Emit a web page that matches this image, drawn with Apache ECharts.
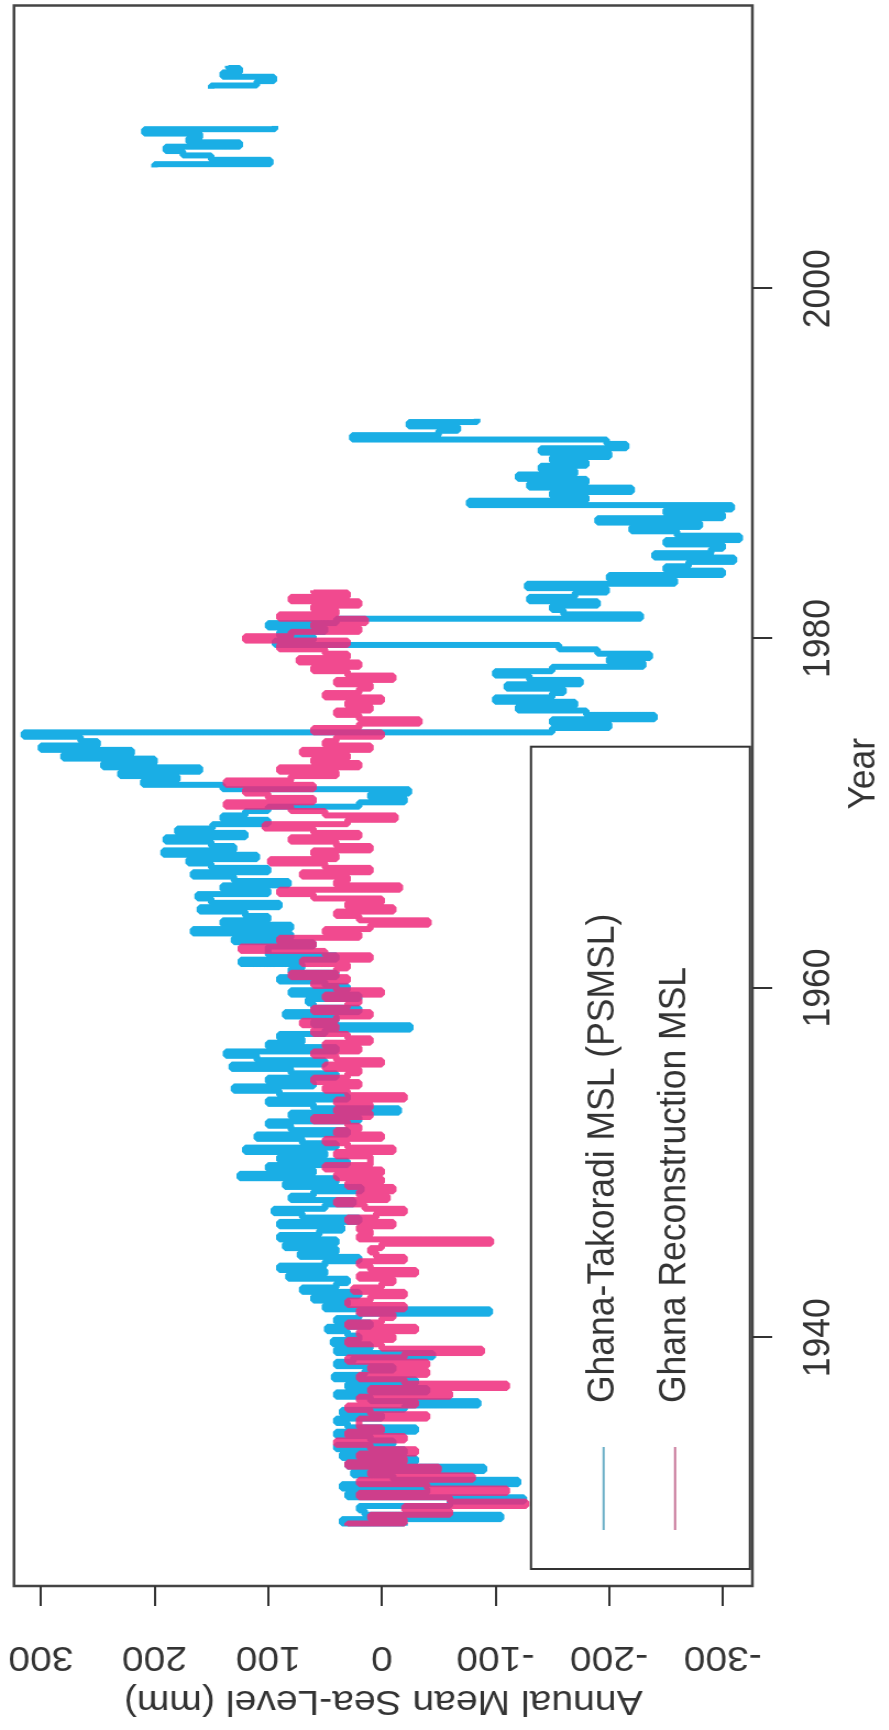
<!DOCTYPE html>
<html><head><meta charset="utf-8">
<script src="https://cdn.jsdelivr.net/npm/echarts@6/dist/echarts.min.js"></script>
<style>
html,body{margin:0;padding:0;background:#fff;overflow:hidden;width:889px;height:1730px;}
#chart{position:absolute;left:0;top:0;width:1730px;height:808px;transform-origin:0 0;transform:scale(1.1,1) translateY(1730px) rotate(-90deg);}
</style></head><body><div id="chart"></div>
<script>
// Year tick labels and sea-level tick labels
const yearTicks = [1940, 1960, 1980, 2000];
const levelTicks = [-300, -200, -100, 0, 100, 200, 300];

// Ghana-Takoradi MSL (PSMSL), quarterly readings from 1929.25
const tideStartA = 1929.25;
const tideValuesA = [
 -20, 35, -105, 15,   20, -60, -125, 30,   -40, 35, -120, -10,   25, -90, 30, -30,
 35, -20, 40, -10,    10, 40, -30, 30,     40, 0, 35, -20,       -85, 10, 40, -40,
 30, -30, 42, 15,     -10, 40, 25, -45,    40, 10, 43, 20,       30, 48, 10, 40,
 20, -95, 50, 30,     60, 20, 70, 40,      30, 82, 50, 90,       50, 20, 72, 40,
 85, 40, 90, 55,      35, 90, 20, 70,      95, 50, 25, 80,       60, 18, 85, 40,
 125, 60, 100, 30,    90, 50, 120, 40,     70, 110, 30, 80,      100, 20, 80, -15,
 60, 100, 30, 90,     130, 60, 100, 40,    80, 132, 50, 110,     137, 40, 100, 70,
 90, 50, -25, 60,     40, 85, 20, 60,      65, 20, 80, 30,       50, 90, 40, 80,
 70, 124, 40, 100,    100, 60, 130, 80,    166, 80, 140, 100,    120, 160, 90, 150,
 162, 100, 140, 82,   130, 166, 100, 150,  170, 110, 192, 130,   150, 190, 120, 180,
 149, 100, 140, 120,  100, 20, -20, 10,    -24, 140, 210, 180,   230, 160, 245, 200,
 280, 220, 300, 250,  265, 315, -150, -200, -150, -240, -180, -120, -170, -100, -150, -160,
 -110, -175, -130, -100, -150, -230, -200, -236, -190, -156, 94, 60, 90, 50, 100, 40,
 -228, -160, -150, -190, -130, -170, -198, -128, -258, -200, -300, -250, -270, -310, -240, -290,
 -300, -250, -315, -260, -220, -280, -190, -300, -250, -308, -77, -180, -150, -220, -130, -180,
 -120, -170, -140, -180, -150, -200, -140, -215, -198, 26, -50, -67, -24, -84
];
const tideStartB = 2007.0;
const tideValuesB = [200, 98, 150, 175, 190, 125, 170, 160, 209, 94];
const tideStartC = 2011.5;
const tideValuesC = [150, 110, 95, 140, 125, 135];

// Ghana Reconstruction MSL, quarterly readings from 1929.25
const reconStart = 1929.25;
const reconValues = [
 30, -20, 10, -60,   -20, -127, -60, 20,  -110, -40, 20, -80,  10, -50, 30, -20,
 20, -30, 10, 40,    -20, 30, 0, 20,      20, -40, 10, 30,     -30, 20, -60, 10,
 -110, -20, 20, -40, 10, -40, 30, -20,    -88, 0, 30, -10,     20, -30, 30, 0,
 -10, 20, -20, 30,   10, -20, 25, 0,      -10, 20, -30, 10,    20, -20, 5, 10,
 0, -96, 20, 10,     20, -10, 30, 5,      -20, 15, 40, -5,     20, -10, 30, 0,
 40, 0, 50, 10,      10, 40, -10, 30,     50, 0, 40, 20,       30, 60, 10, 40,
 10, 40, -20, 30,    50, 20, 60, 30,      20, 50, 0, 40,       60, 20, 50, 10,
 30, 60, 40, 70,     40, 10, 60, 30,      20, 50, 0, 40,       60, 30, 80, 40,
 30, 70, 10, 50,     124, 60, 90, 20,     50, 10, -41, 20,     40, -10, 30, 0,
 60, 90, -16, 40,    30, 70, 10, 50,      98, 40, 60, 10,      40, 80, 20, 60,
 103, 30, -12, 50,   80, 137, 60, 100,    120, 60, 137, 80,    40, 90, 20, 60,
 30, 70, 10, 50,     40, 0, 60, 20,       -33, 20, 40, 10,     30, 0, 50, 20,
 10, 40, -10, 30,    60, 20, 73, 30,      50, 90, 30, 120,     80, 20, 60, 14,
 90, 40, 60, 20,     80, 30, 60
];

const STEP = 0.25;
function toPairs(start, vals) { return vals.map((v, i) => [start + i * STEP, v]); }
function segEnd(start, vals) { return start + vals.length * STEP - STEP * 0.5; }
// null points break the line between the separate runs of the tide-gauge record
const tideData = toPairs(tideStartA, tideValuesA)
  .concat([[segEnd(tideStartA, tideValuesA), null], [tideStartB - STEP * 0.5, null]],
          toPairs(tideStartB, tideValuesB),
          [[segEnd(tideStartB, tideValuesB), null], [tideStartC - STEP * 0.5, null]],
          toPairs(tideStartC, tideValuesC));
const reconData = toPairs(reconStart, reconValues);

const FONT = '"Liberation Sans", Arial, sans-serif';
const TXT = '#333';
const FS = 35.5;
const CYAN = '#1aaee5';
const PINK = '#ee2a7b';

const chart = echarts.init(document.getElementById('chart'), null, {width: 1730, height: 808});
chart.setOption({
  animation: false,
  grid: {left: 144, right: 5.5, top: 12.7, bottom: 120, show: true, borderColor: '#444', borderWidth: 2.5, backgroundColor: 'transparent'},
  xAxis: {
    type: 'value', min: 1925.8, max: 2016.2,
    name: 'Year', nameLocation: 'middle', nameGap: 82,
    nameTextStyle: {fontSize: FS, lineHeight: 36, color: TXT, fontFamily: FONT, padding: [0, 0, 0, 44]},
    axisLine: {show: false, onZero: false}, splitLine: {show: false},
    axisTick: {show: true, customValues: yearTicks, length: 18, lineStyle: {color: TXT, width: 2}},
    axisLabel: {customValues: yearTicks, formatter: v => String(v), fontSize: FS, lineHeight: 36, margin: 42, color: TXT, fontFamily: FONT}
  },
  yAxis: {
    type: 'value', min: -326.3, max: 323.7,
    name: 'Annual Mean Sea-Level (mm)', nameLocation: 'middle', nameGap: 96, nameRotate: 90,
    nameTextStyle: {fontSize: FS, lineHeight: 36, color: TXT, fontFamily: FONT},
    axisLine: {show: false, onZero: false}, splitLine: {show: false},
    axisTick: {show: true, customValues: levelTicks, length: 20, lineStyle: {color: TXT, width: 2}},
    axisLabel: {customValues: levelTicks, rotate: 90, fontSize: FS, lineHeight: 36, margin: 53, color: TXT, fontFamily: FONT}
  },
  legend: {
    orient: 'vertical', left: 161, top: 482.7,
    padding: [48, 167, 50, 39], itemWidth: 83, itemHeight: 2, itemGap: 29,
    icon: 'rect',
    borderColor: '#333', borderWidth: 2, backgroundColor: '#fff',
    textStyle: {fontSize: FS, lineHeight: 36, color: TXT, fontFamily: FONT, padding: [0, 0, 0, 39]},
    data: [
      {name: 'Ghana-Takoradi MSL (PSMSL)', itemStyle: {color: '#6aaec6'}},
      {name: 'Ghana Reconstruction MSL', itemStyle: {color: '#c8789a'}}
    ]
  },
  series: [
    {name: 'Ghana-Takoradi MSL (PSMSL)', type: 'line', step: 'middle', data: tideData, symbol: 'none', connectNulls: false,
     lineStyle: {color: CYAN, width: 6}, itemStyle: {color: CYAN}, z: 2},
    {name: 'Ghana Reconstruction MSL', type: 'line', step: 'middle', data: reconData, symbol: 'none',
     lineStyle: {color: PINK, width: 6, opacity: 0.85}, itemStyle: {color: PINK}, z: 3}
  ]
});
</script></body></html>
